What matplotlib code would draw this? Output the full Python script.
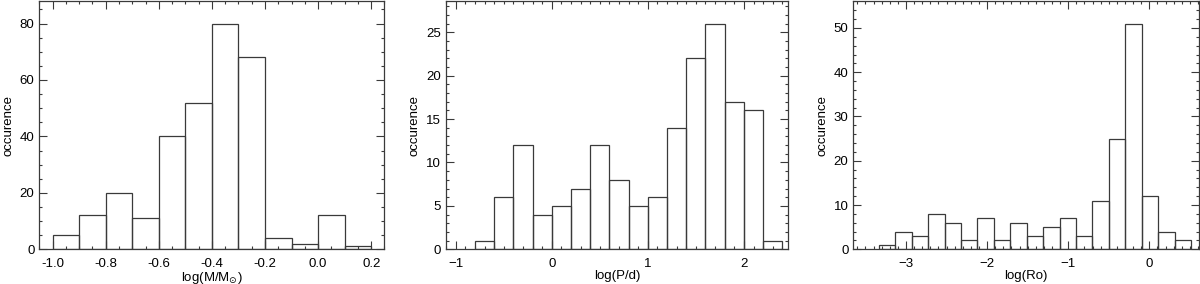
import numpy as np
import matplotlib.pyplot as plt
from matplotlib.ticker import MultipleLocator

plt.rcParams['font.family'] = ['Liberation Sans', 'DejaVu Sans']
plt.rcParams['font.size'] = 9.5

# istogramma 1: log(M/Msun)
mass_edges = [-1.0, -0.9, -0.8, -0.7, -0.6, -0.5, -0.4, -0.3, -0.2, -0.1, 0.0, 0.1, 0.2]
mass_counts = [5, 12, 20, 11, 40, 52, 80, 68, 4, 2, 12, 1]

# istogramma 2: log(P/d)
per_edges = [-0.8, -0.6, -0.4, -0.2, 0.0, 0.2, 0.4, 0.6, 0.8, 1.0, 1.2, 1.4, 1.6, 1.8, 2.0, 2.2, 2.4]
per_counts = [1, 6, 12, 4, 5, 7, 12, 8, 5, 6, 14, 22, 26, 17, 16, 1]

# istogramma 3: log(Ro)
ro_lo, ro_hi = -3.335, 0.515
ro_counts = [1, 4, 3, 8, 6, 2, 7, 2, 6, 3, 5, 7, 3, 11, 25, 51, 12, 4, 2]
ro_edges = np.linspace(ro_lo, ro_hi, len(ro_counts) + 1)

col = '#3a3a3a'

fig = plt.figure(figsize=(12, 2.84), dpi=100)
pos = [[0.0328, 0.1222, 0.2876, 0.8745],
       [0.3714, 0.1222, 0.2855, 0.8745],
       [0.7111, 0.1222, 0.2881, 0.8745]]

pannelli = [
    (mass_edges, mass_counts, r'log(M/M$_{\odot}$)', (-1.05, 0.25), 88, 0.2, 0.05, 20, 5),
    (per_edges, per_counts, 'log(P/d)', (-1.105, 2.462), 28.6, 1, 0.1, 5, 1),
    (ro_edges, ro_counts, 'log(Ro)', (-3.65, 0.613), 56.1, 1, 0.1, 10, 2),
]

for i, (edges, counts, xlab, xl, ytop, xmaj, xmin, ymaj, ymin) in enumerate(pannelli):
    ax = fig.add_axes(pos[i])
    edges = np.asarray(edges)
    ax.bar(edges[:-1], counts, width=np.diff(edges), align='edge',
           fill=False, edgecolor=col, linewidth=0.9)
    ax.set_xlim(*xl)
    ax.set_ylim(0, ytop)
    ax.xaxis.set_major_locator(MultipleLocator(xmaj))
    ax.xaxis.set_minor_locator(MultipleLocator(xmin))
    ax.yaxis.set_major_locator(MultipleLocator(ymaj))
    ax.yaxis.set_minor_locator(MultipleLocator(ymin))
    ax.tick_params(which='both', direction='in', top=True, right=True, color=col, width=0.8)
    ax.tick_params(which='major', length=5.5)
    ax.tick_params(which='minor', length=2.5)
    ax.tick_params(axis='x', which='major', pad=6.5)
    ax.tick_params(axis='y', which='major', pad=3.5)
    for s in ax.spines.values():
        s.set_color(col)
        s.set_linewidth(0.9)
    ax.set_xlabel(xlab, labelpad=0)
    ax.set_ylabel('occurence', labelpad=4)
    if i == 0:
        ax.set_xticks([-1.0, -0.8, -0.6, -0.4, -0.2, 0.0, 0.2])
        ax.set_xticklabels(['-1.0', '-0.8', '-0.6', '-0.4', '-0.2', '0.0', '0.2'])
        ax.set_xlim(*xl)

fig.savefig('out.png', dpi=100)
